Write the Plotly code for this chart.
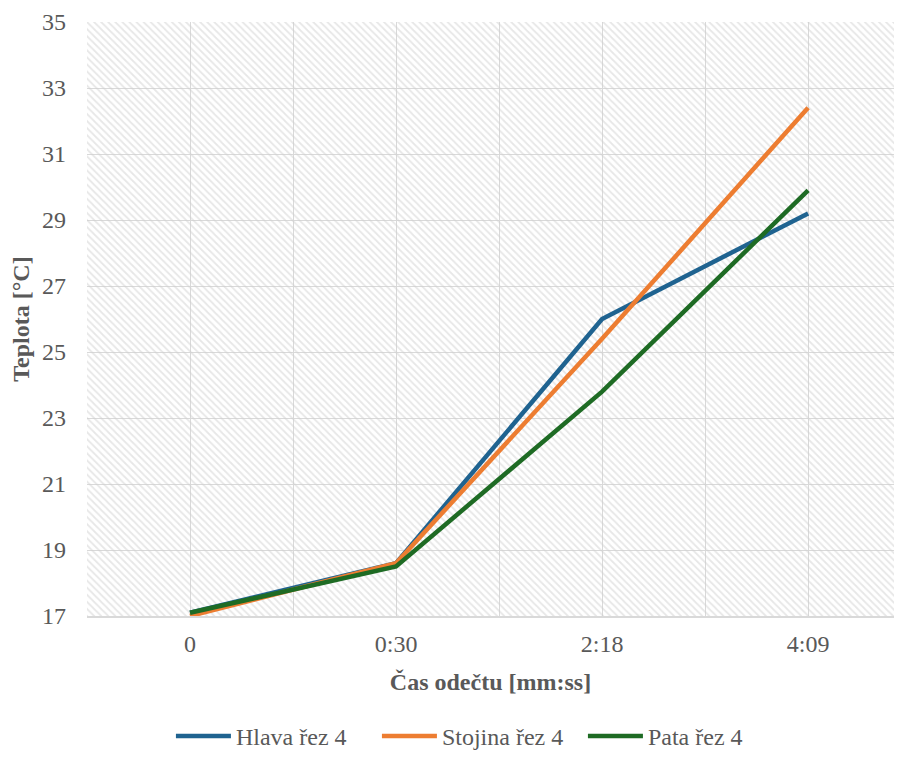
import plotly.graph_objects as go

# Data
casy = ['0', '0:30', '2:18', '4:09']
hlava = [17.1, 18.6, 26.0, 29.2]
stojina = [17.0, 18.6, 25.4, 32.4]
pata = [17.1, 18.5, 23.8, 29.9]

y_min, y_max = 17, 35

FONT = 'Liberation Serif'
GREY = '#595959'
GRID = '#d9d9d9'

x = list(range(len(casy)))

fig = go.Figure()

# hatched plot background (transparent so gridlines stay visible)
fig.add_trace(go.Bar(
    x=x,
    y=[y_max - y_min] * len(x),
    base=y_min,
    width=1,
    marker=dict(
        color='rgba(0,0,0,0)',
        line=dict(width=0),
        pattern=dict(shape='\\', fgcolor='#cfcfcf', bgcolor='rgba(0,0,0,0)',
                     size=5, solidity=0.35)
    ),
    hoverinfo='skip',
    showlegend=False
))

series = [
    ('Hlava řez 4', hlava, '#1f6390'),
    ('Stojina řez 4', stojina, '#ed7d31'),
    ('Pata řez 4', pata, '#1e6b24'),
]
for name, vals, color in series:
    fig.add_trace(go.Scatter(
        x=x, y=vals, name=name, mode='lines',
        line=dict(color=color, width=4.5)
    ))

# page body adds an 8px margin, keep the figure inside the window
fig.update_layout(
    width=886,
    height=744,
    margin=dict(l=79, r=0, t=14, b=136),
    plot_bgcolor='white',
    paper_bgcolor='white',
    bargap=0,
    font=dict(family=FONT, size=24, color=GREY),
    xaxis=dict(
        range=[-0.5, 3.417],
        tickvals=x,
        ticktext=casy,
        showgrid=True,
        gridcolor=GRID,
        gridwidth=1,
        minor=dict(dtick=0.5, tick0=-0.5, showgrid=True, gridcolor=GRID, gridwidth=1),
        zeroline=False,
        showline=True,
        linecolor=GRID,
        linewidth=2,
        ticks='',
        automargin=False,
        ticklabelstandoff=5,
        title=dict(text='<b>Čas odečtu [mm:ss]</b>', font=dict(size=24, color=GREY), standoff=17),
    ),
    yaxis=dict(
        range=[y_min, y_max],
        dtick=2,
        tick0=17,
        showgrid=True,
        gridcolor=GRID,
        gridwidth=1,
        zeroline=False,
        ticks='',
        automargin=False,
        ticklabelstandoff=20,
        title=dict(text='<b>Teplota [°C]</b>', font=dict(size=24, color=GREY), standoff=8),
    ),
    legend=dict(
        orientation='h',
        xref='paper',
        x=0.104,
        xanchor='left',
        yref='container',
        y=0.021,
        yanchor='middle',
        itemwidth=55,
        entrywidth=136,
        font=dict(family=FONT, size=24, color=GREY),
    ),
)

fig.write_html('out.html')
